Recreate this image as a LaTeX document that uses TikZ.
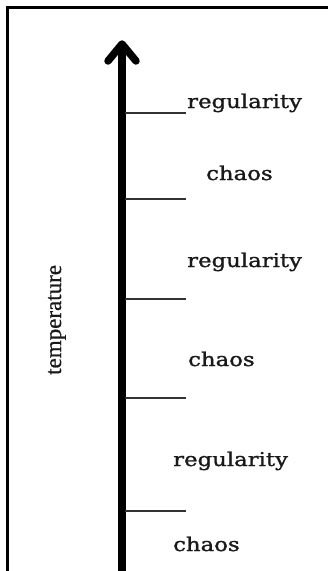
\documentclass[tikz,border=0pt]{standalone}
\usepackage{fontspec}
\setmainfont{DejaVu Serif}
\newfontfamily\lblfont[FakeBold=1.2]{DejaVu Serif}
\newfontfamily\tempfont[FakeBold=0.8]{Liberation Serif}
\begin{document}
\begin{tikzpicture}[x=1pt,y=-1pt,
  frame/.style={line width=2.6pt,black},
  shaft/.style={line width=7.5pt,black},
  tick/.style={line width=1.6pt,black!80},
  lbl/.style={anchor=base west,inner sep=0pt,text=black!90,font=\lblfont\fontsize{19}{19}\selectfont},
  templbl/.style={anchor=base west,inner sep=0pt,rotate=90,text=black!90,font=\tempfont\fontsize{23}{23}\selectfont}]
\useasboundingbox (0,0) rectangle (328,571);
% frame
\draw[frame] (328,7.5) -- (7.5,7.5) -- (7.5,571);
% axis
\coordinate (bot) at (122,571);
\coordinate (top) at (122,44);
\coordinate (bl) at (108,61);
\coordinate (br) at (136,61);
\draw[shaft] (bot) -- (top);
\draw[shaft,line cap=round,line join=round] (bl) -- (top) -- (br);
% ticks
\foreach \y [count=\i] in {113,199,299,398,511}{
  \coordinate (t\i a) at (125,\y);
  \coordinate (t\i b) at (186,\y);
  \draw[tick] (t\i a) -- (t\i b);
}
% labels
\node[lbl] (r1) at (187,108) {\scalebox{1.2}[1]{regularity}};
\node[lbl] (c1) at (206,180) {\scalebox{1.2}[1]{chaos}};
\node[lbl] (r2) at (187,267) {\scalebox{1.2}[1]{regularity}};
\node[lbl] (c2) at (188,366) {\scalebox{1.2}[1]{chaos}};
\node[lbl] (r3) at (173,466) {\scalebox{1.2}[1]{regularity}};
\node[lbl] (c3) at (173,551) {\scalebox{1.2}[1]{chaos}};
\node[templbl] (temp) at (61,375) {temperature};
\end{tikzpicture}
\end{document}
